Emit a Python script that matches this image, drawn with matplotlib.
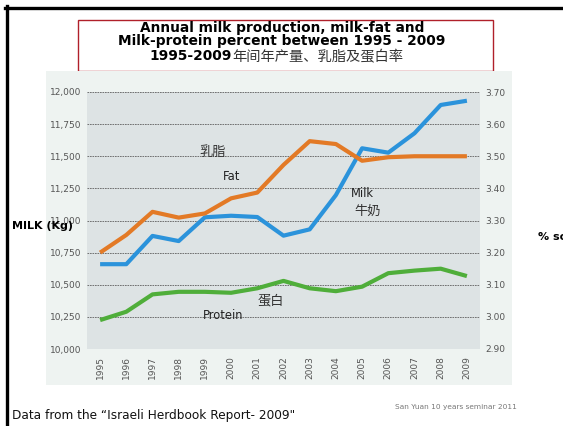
import matplotlib.pyplot as plt
from matplotlib.patches import Rectangle
from matplotlib.lines import Line2D

plt.rcParams['font.family'] = ['DejaVu Sans', 'Noto Sans CJK SC']

# Israeli herdbook, 1995-2009
years = list(range(1995, 2010))
milk_kg = [10660, 10660, 10880, 10840, 11025, 11037, 11027, 10882,
           10931, 11198, 11562, 11528, 11679, 11899, 11932]
fat_pct = [3.20, 3.255, 3.327, 3.309, 3.322, 3.369, 3.387, 3.473,
           3.547, 3.538, 3.486, 3.497, 3.50, 3.50, 3.50]
protein_pct = [2.99, 3.016, 3.07, 3.078, 3.078, 3.075, 3.089, 3.112,
               3.089, 3.08, 3.094, 3.136, 3.144, 3.15, 3.127]

milk_ticks = list(range(10000, 12001, 250))
pct_ticks = [2.9, 3.0, 3.1, 3.2, 3.3, 3.4, 3.5, 3.6, 3.7]

W, H = 563, 426
fig = plt.figure(figsize=(W / 100, H / 100), dpi=100)


def fx(x):
    return x / W


def fy(y):
    return 1 - y / H


# slide frame
fig.add_artist(Line2D([fx(5), 1], [fy(7.5), fy(7.5)], color='black', lw=2.4))
fig.add_artist(Line2D([fx(6.5), fx(6.5)], [fy(6), 0], color='black', lw=2.4))

# title box and light panel
fig.add_artist(Rectangle((fx(78), fy(71)), fx(493 - 78), (71 - 20) / H,
                         transform=fig.transFigure, fill=False,
                         edgecolor='#b0202a', lw=1.0))
fig.add_artist(Rectangle((fx(46), fy(385)), fx(512 - 46), (385 - 71) / H,
                         transform=fig.transFigure, facecolor='#eef3f1',
                         edgecolor='none', zorder=1))

fig.text(fx(282), fy(28), 'Annual milk production, milk-fat and',
         ha='center', va='center', fontsize=9.9, fontweight='bold')
fig.text(fx(282), fy(41.5), 'Milk-protein percent between 1995 - 2009',
         ha='center', va='center', fontsize=9.9, fontweight='bold')
fig.text(fx(232), fy(56), '1995-2009', ha='right', va='center',
         fontsize=9.9, fontweight='bold')
fig.text(fx(232), fy(57), '年间年产量、乳脂及蛋白率', ha='left', va='center',
         fontsize=10.3, color='#333333', family=['Noto Sans CJK SC'])

ax = fig.add_axes([fx(87), fy(349), fx(480 - 87), (349 - 92) / H], zorder=2)
ax.set_facecolor('#dde3e4')
ax2 = ax.twinx()

ax.plot(years, milk_kg, color='#2b93db', lw=3.0, solid_capstyle='butt', zorder=3)
ax2.plot(years, fat_pct, color='#e37a26', lw=3.0, solid_capstyle='butt', zorder=3)
ax2.plot(years, protein_pct, color='#4fae3a', lw=3.0, solid_capstyle='butt', zorder=3)

ax.set_xlim(1994.5, 2009.5)
ax.set_ylim(10000, 12000)
ax2.set_ylim(2.9, 3.7)
ax.set_yticks(milk_ticks)
ax.set_yticklabels([f'{v:,}' for v in milk_ticks])
ax2.set_yticks(pct_ticks)
ax2.set_yticklabels([f'{v:.2f}' for v in pct_ticks])
ax.set_xticks(years)
ax.set_xticklabels([str(y) for y in years], rotation=90)

ax.grid(axis='y', color='#606060', lw=0.6, linestyle=(0, (2, 1)))
ax.set_axisbelow(True)
for a in (ax, ax2):
    for s in a.spines.values():
        s.set_visible(False)
    a.tick_params(length=0, labelsize=6.5, labelcolor='#555555')
ax.tick_params(axis='y', pad=4)
ax2.tick_params(axis='y', pad=4)
ax.tick_params(axis='x', pad=5)

# series labels
lab = dict(ha='center', va='center', fontsize=8.3, color='#222222')
cjk = dict(ha='center', va='center', fontsize=9.5, color='#333333',
           family=['Noto Sans CJK SC'])
ax.text(1999.3, 11533, '乳脂', **cjk)
ax.text(2000.0, 11346, 'Fat', **lab)
ax.text(2005.0, 11214, 'Milk', **lab)
ax.text(2005.2, 11074, '牛奶', **cjk)
ax.text(2001.5, 10374, '蛋白', **cjk)
ax.text(1999.7, 10257, 'Protein', **lab)

# axis captions; the right one runs off the slide edge
fig.text(fx(12), fy(226), 'MILK (Kg)', ha='left', va='center',
         fontsize=8, fontweight='bold', zorder=5)
fig.text(fx(538), fy(237), '% solids', ha='left', va='center',
         fontsize=8, fontweight='bold')

fig.text(fx(12), fy(415), 'Data from the \u201cIsraeli Herdbook Report- 2009"',
         ha='left', va='center', fontsize=8.7, color='#111111')
fig.text(fx(395), fy(407), 'San Yuan 10 years seminar 2011', ha='left',
         va='center', fontsize=5.3, color='#777777')

fig.savefig('out.png', dpi=100)
